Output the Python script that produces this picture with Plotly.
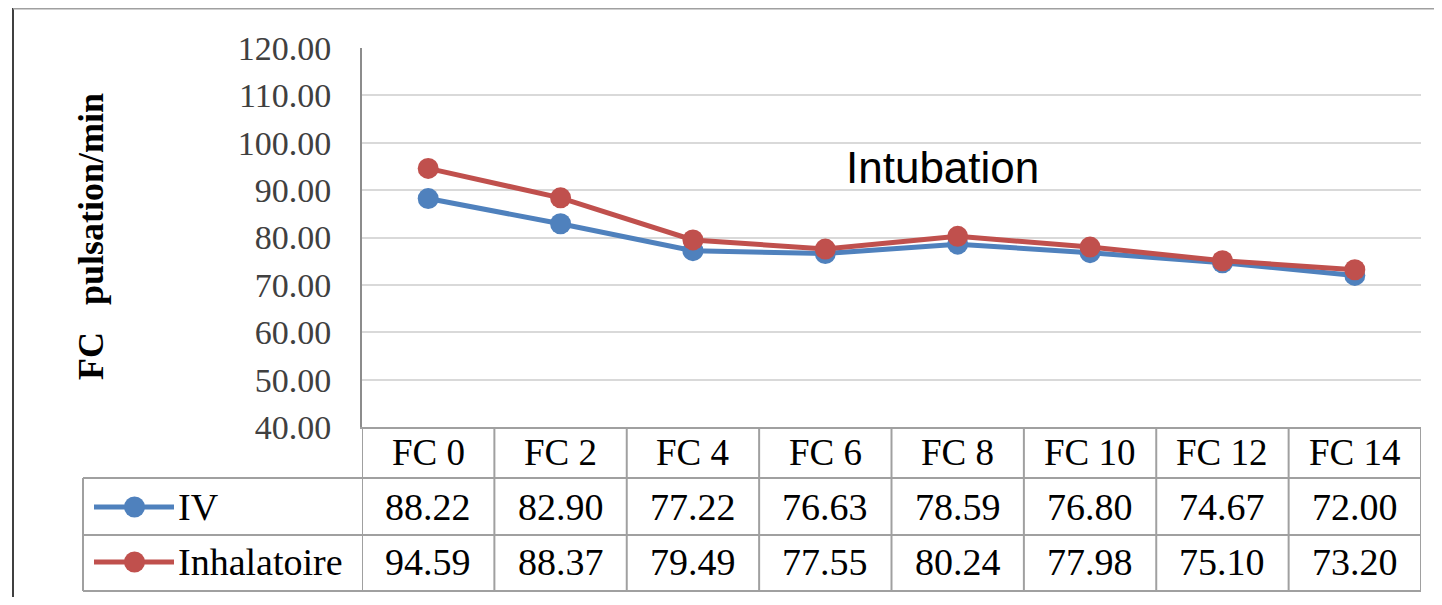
import plotly.graph_objects as go

categories = ["FC 0", "FC 2", "FC 4", "FC 6", "FC 8", "FC 10", "FC 12", "FC 14"]
iv_values = [88.22, 82.90, 77.22, 76.63, 78.59, 76.80, 74.67, 72.00]
inhal_values = [94.59, 88.37, 79.49, 77.55, 80.24, 77.98, 75.10, 73.20]
series_names = ["IV", "Inhalatoire"]
y_title = "FC\u00a0\u00a0 pulsation/min"
note_text = "Intubation"

BLUE = "#4F81BD"
RED = "#C0504D"
GRID = "#D9D9D9"
TBL = "#A0A0A0"
SERIF = "Liberation Serif"

# reference-pixel geometry (page coords); body has an 8px margin
PL, PR, PT, PB = 362, 1421, 48, 427
W, H = 1442 - 16, 605 - 16


def px(x):
    return (x - PL) / (PR - PL)


def py(y):
    return (PB - y) / (PB - PT)


xs = list(range(len(categories)))
fig = go.Figure()
fig.add_trace(go.Scatter(x=xs, y=iv_values, name=series_names[0], mode="lines+markers",
                         line=dict(color=BLUE, width=5), marker=dict(size=21, color=BLUE),
                         cliponaxis=False))
fig.add_trace(go.Scatter(x=xs, y=inhal_values, name=series_names[1], mode="lines+markers",
                         line=dict(color=RED, width=5), marker=dict(size=21, color=RED),
                         cliponaxis=False))

shapes = []
ann = []
row_y = [452, 507, 562]  # header, IV, Inhalatoire text centers
h_lines = [478, 535, 591]
for hy in h_lines:
    shapes.append(dict(type="line", xref="paper", yref="paper", x0=px(83), x1=px(PR),
                       y0=py(hy), y1=py(hy), line=dict(color=TBL, width=2)))
for i in range(len(categories) + 1):
    shapes.append(dict(type="line", xref="x", yref="paper", x0=i - 0.5, x1=i - 0.5,
                       y0=py(PB), y1=py(591), line=dict(color=TBL, width=2)))
shapes.append(dict(type="line", xref="paper", yref="paper", x0=px(83), x1=px(83),
                   y0=py(478), y1=py(591), line=dict(color=TBL, width=2)))
# outer chart border
shapes.append(dict(type="line", xref="paper", yref="paper", x0=px(13), x1=px(13),
                   y0=py(8), y1=py(605), line=dict(color="#404040", width=2)))
shapes.append(dict(type="line", xref="paper", yref="paper", x0=px(13), x1=px(1442),
                   y0=py(8.5), y1=py(8.5), line=dict(color="#A0A0A0", width=2)))

for i, c in enumerate(categories):
    ann.append(dict(x=i, y=py(row_y[0]), xref="x", yref="paper", text=c, showarrow=False,
                    font=dict(family=SERIF, size=37, color="black"), xanchor="center", yanchor="middle"))
for r, vals in enumerate([iv_values, inhal_values]):
    for i, v in enumerate(vals):
        ann.append(dict(x=i, y=py(row_y[r + 1]), xref="x", yref="paper", text=f"{v:.2f}",
                        showarrow=False, font=dict(family=SERIF, size=38, color="black"),
                        xanchor="center", yanchor="middle"))
for r, (name, col) in enumerate(zip(series_names, [BLUE, RED])):
    yy = row_y[r + 1]
    shapes.append(dict(type="line", xref="paper", yref="paper", x0=px(94), x1=px(174),
                       y0=py(yy), y1=py(yy), line=dict(color=col, width=5)))
    shapes.append(dict(type="circle", xref="paper", yref="paper", x0=px(124), x1=px(145),
                       y0=py(yy + 10.5), y1=py(yy - 10.5), fillcolor=col, line=dict(color=col, width=0)))
    ann.append(dict(x=px(176), y=py(yy), xref="paper", yref="paper", text=name, showarrow=False,
                    font=dict(family=SERIF, size=38, color="black"), xanchor="left", yanchor="middle"))

ann.append(dict(x=px(91), y=py(237), xref="paper", yref="paper", text=f"<b>{y_title}</b>",
                textangle=-90, showarrow=False, font=dict(family=SERIF, size=36, color="black"),
                xanchor="center", yanchor="middle"))
ann.append(dict(x=px(942), y=py(167), xref="paper", yref="paper", text=note_text, showarrow=False,
                font=dict(family="Liberation Sans", size=44, color="black"),
                xanchor="center", yanchor="middle"))

fig.update_layout(
    width=W, height=H, autosize=False,
    margin=dict(l=PL - 8, r=W - (PR - 8), t=PT - 8, b=H - (PB - 8), pad=0),
    paper_bgcolor="white", plot_bgcolor="white",
    showlegend=False,
    font=dict(family=SERIF),
    shapes=shapes, annotations=ann,
    xaxis=dict(range=[-0.5, len(categories) - 0.5], showticklabels=False, showgrid=False,
               zeroline=False, showline=True, linecolor=TBL, linewidth=2, ticks=""),
    yaxis=dict(range=[40, 120], dtick=10, tick0=40, tickformat=".2f", showgrid=True,
               gridcolor=GRID, gridwidth=2, zeroline=False, showline=True, linecolor="#8C8C8C",
               linewidth=2, ticks="", ticklabelstandoff=22,
               tickfont=dict(family=SERIF, size=34, color="#404040")),
)

fig.write_html("out.html")
